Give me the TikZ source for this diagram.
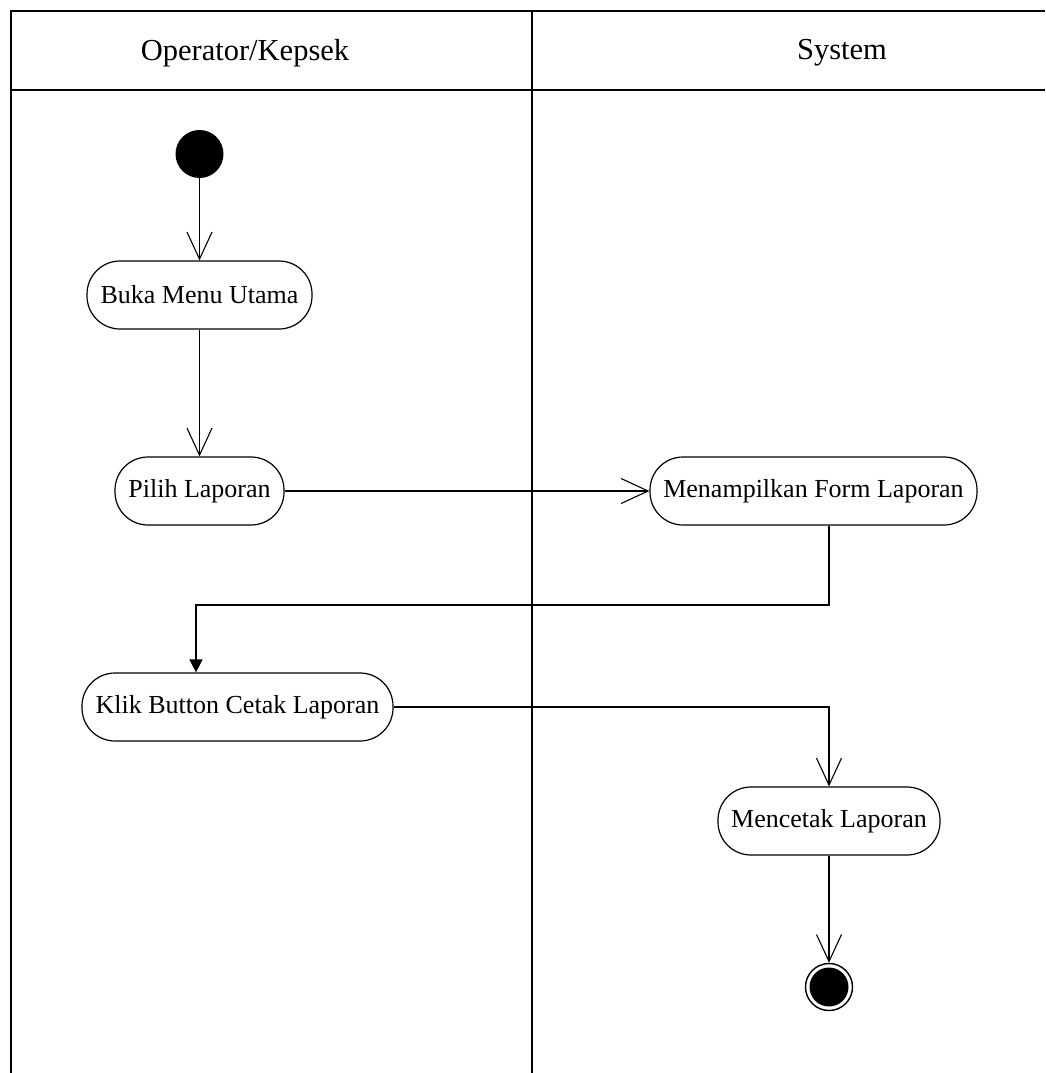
\documentclass[tikz,border=0pt]{standalone}
\usepackage{fontspec}
\setmainfont{Liberation Serif}
\usetikzlibrary{arrows.meta,calc}

\tikzset{
  lane/.style={line width=2pt, black},
  lanetitle/.style={font=\fontsize{30.5}{36}\selectfont, anchor=center},
  action/.style={draw, line width=1.2pt, rounded corners=33pt, minimum height=68pt,
                 inner xsep=0pt, font=\fontsize{26}{30}\selectfont},
  startstate/.style={circle, fill=black, minimum size=48pt, inner sep=0pt},
  endstate/.style={circle, draw, line width=1.4pt, minimum size=47pt, inner sep=0pt,
                   path picture={\fill[black] (path picture bounding box.center) circle (19.5pt);}},
  flow/.style={line width=1.1pt, -{Straight Barb[length=27pt, width=25pt]}},
  syncflow/.style={line width=1.6pt, -{Triangle[length=13pt, width=13pt]}},
}

\begin{document}
\begin{tikzpicture}[x=1pt, y=-1pt]
  \useasboundingbox (0,0) rectangle (1045,1073);

  % swimlane frame
  \draw[lane] (11,1073) -- (11,11) -- (1045,11);
  \draw[lane] (11,90) -- (1045,90);
  \draw[lane] (532,11) -- (532,1073);
  \node[lanetitle] (t1) at (245,53) {Operator/Kepsek};
  \node[lanetitle] (t2) at (842,53) {System};

  % states and actions
  \node[startstate] (start) at (199.5,154) {};
  \node[action, minimum width=225pt] (buka) at (199.5,295) {Buka Menu Utama};
  \node[action, minimum width=169pt] (pilih) at (199.5,491) {Pilih Laporan};
  \node[action, minimum width=327pt] (form) at (813.5,491) {Menampilkan Form Laporan};
  \node[action, minimum width=311pt] (klik) at (237.5,707) {Klik Button Cetak Laporan};
  \node[action, minimum width=222pt] (cetak) at (829,821) {Mencetak Laporan};
  \node[endstate] (end) at (829,987) {};

  % bend points of the return flow
  \coordinate (r1) at (829,605);
  \coordinate (r2) at (196,605);

  % transitions
  \draw[flow] (start) -- (buka);
  \draw[flow] (buka) -- (pilih);
  \draw[flow] (pilih) -- (form);
  \draw[syncflow] (form.south -| r1) -- (r1) -- (r2) -- (r2 |- klik.north);
  \draw[flow] (klik.east) -| (cetak.north);
  \draw[flow] (cetak) -- (end);
\end{tikzpicture}
\end{document}
